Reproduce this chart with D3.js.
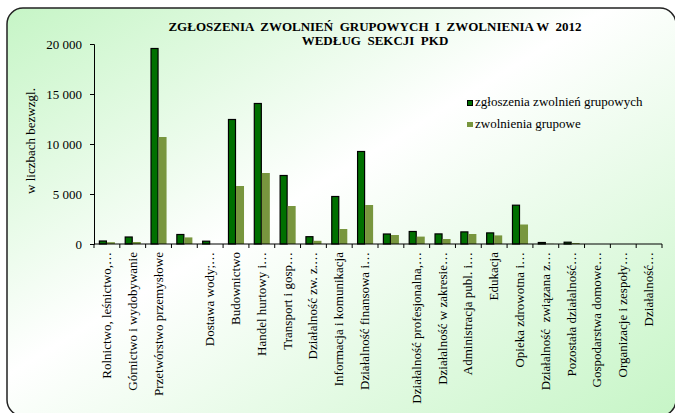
<!DOCTYPE html>
<html>
<head>
<meta charset="utf-8">
<script src="https://cdn.jsdelivr.net/npm/d3@7"></script>
<style>
  body { margin: 0; background: #fff; }
  text { font-family: "Liberation Serif", "Times New Roman", serif; fill: #000; }
</style>
</head>
<body>
<div class="chart"></div>
<script>
// data
var categories = [
  "Rolnictwo, leśnictwo,…", "Górnictwo i wydobywanie", "Przetwórstwo przemysłowe", "",
  "Dostawa wody;…", "Budownictwo", "Handel hurtowy i…", "Transport i gosp…",
  "Działalność zw. z.…", "Informacja i komunikacja", "Działalność finansowa i…", "",
  "Działalność profesjonalna,…", "Działalność w zakresie…", "Administracja publ. i…", "Edukacja",
  "Opieka zdrowotna i…", "Działalność  związana z…", "Pozostała działalność…", "Gospodarstwa domowe…",
  "Organizacje i zespoły…", "Działalność…"
];
var seriesNames = ["zgłoszenia zwolnień grupowych", "zwolnienia grupowe"];
var zgloszenia = [350, 750, 19600, 1000, 330, 12500, 14100, 6900, 780, 4800, 9300, 1050,
                  1300, 1060, 1260, 1160, 3930, 200, 230, 0, 0, 0];
var zwolnienia = [180, 200, 10700, 660, 0, 5800, 7100, 3800, 320, 1500, 3900, 900,
                  740, 500, 1000, 860, 1950, 20, 100, 0, 0, 0];
var yTicks = [0, 5000, 10000, 15000, 20000];
var titleLines = ["ZGŁOSZENIA  ZWOLNIEŃ  GRUPOWYCH  I  ZWOLNIENIA W  2012", "WEDŁUG  SEKCJI  PKD"];

var svgWidth = 675;
var svgHeight = 413;
var margin = { top: 44, right: 13, bottom: 169, left: 94 };
var width = svgWidth - margin.left - margin.right;
var height = svgHeight - margin.top - margin.bottom;

var svg = d3.select(".chart").append("svg")
    .attr("width", svgWidth)
    .attr("height", svgHeight);

// background gradient
var defs = svg.append("defs");
var grad = defs.append("linearGradient")
    .attr("id", "bg")
    .attr("x1", "0").attr("y1", "0").attr("x2", "1").attr("y2", "1");
grad.append("stop").attr("offset", "0%").attr("stop-color", "#c6f5c6");
grad.append("stop").attr("offset", "45%").attr("stop-color", "#ffffff");
grad.append("stop").attr("offset", "100%").attr("stop-color", "#c6f5c6");

svg.append("rect")
    .attr("x", 7).attr("y", 8)
    .attr("width", 669).attr("height", 408)
    .attr("rx", 16).attr("ry", 16)
    .attr("fill", "url(#bg)")
    .attr("stroke", "#222")
    .attr("stroke-width", 1.5);

var chart = svg.append("g")
    .attr("transform", "translate(" + margin.left + "," + margin.top + ")");

var x0 = d3.scaleBand().domain(d3.range(categories.length)).range([0, width]).padding(0);
var x1 = d3.scaleBand().domain([0, 1]).range([0, x0.bandwidth()]).paddingInner(0).paddingOuter(0.61);
var y = d3.scaleLinear().domain([0, 20000]).range([height, 0]);

var fmt = function(d) { return d3.format(",")(d).replace(",", " "); };

// bars
var groups = chart.selectAll(".cat")
    .data(categories.map(function(c, i) { return { i: i, v: [zgloszenia[i], zwolnienia[i]] }; }))
    .enter().append("g")
    .attr("transform", function(d) { return "translate(" + x0(d.i) + ",0)"; });

groups.append("rect")
    .attr("x", x1(0) + 0.5)
    .attr("y", function(d) { return y(d.v[0]) + 0.5; })
    .attr("width", x1.bandwidth() - 1)
    .attr("height", function(d) { return Math.max(0, height - y(d.v[0]) - 0.5); })
    .attr("fill", "#007000")
    .attr("stroke", "#000")
    .attr("stroke-width", function(d) { return d.v[0] > 0 ? 1.2 : 0; });

groups.append("rect")
    .attr("x", x1(1))
    .attr("y", function(d) { return y(d.v[1]); })
    .attr("width", x1.bandwidth())
    .attr("height", function(d) { return height - y(d.v[1]); })
    .attr("fill", "#78963e");

// y axis
var leftAxis = d3.axisLeft(y).tickValues(yTicks).tickFormat(fmt).tickSize(4).tickPadding(8);
var yg = chart.append("g").call(leftAxis);
yg.attr("font-family", null);
yg.select(".domain").attr("stroke", "#000");
yg.selectAll("text").attr("font-size", 13).attr("font-family", "Liberation Serif");

// x axis with ticks between categories
var xg = chart.append("g").attr("transform", "translate(0," + height + ")");
xg.append("line").attr("x1", 0).attr("x2", width).attr("stroke", "#000");
xg.selectAll(".xt")
    .data(d3.range(categories.length + 1))
    .enter().append("line")
    .attr("x1", function(d) { return d * x0.step(); })
    .attr("x2", function(d) { return d * x0.step(); })
    .attr("y2", 4)
    .attr("stroke", "#000");
xg.selectAll(".xl")
    .data(categories)
    .enter().append("text")
    .attr("transform", function(d, i) {
        return "translate(" + (x0(i) + x0.bandwidth() / 2 + 4) + ",8) rotate(-90)";
    })
    .attr("text-anchor", "end")
    .attr("font-size", 13)
    .style("white-space", "pre")
    .text(function(d) { return d; });

// y axis title
svg.append("text")
    .attr("transform", "translate(35,141) rotate(-90)")
    .attr("text-anchor", "middle")
    .attr("font-size", 13)
    .text("w liczbach bezwzgl.");

// title
svg.selectAll(".title")
    .data(titleLines)
    .enter().append("text")
    .attr("x", 375)
    .attr("y", function(d, i) { return 31 + i * 14; })
    .attr("text-anchor", "middle")
    .attr("font-size", 13)
    .attr("font-weight", "bold")
    .style("white-space", "pre")
    .text(function(d) { return d; });

// legend
var legend = svg.append("g").attr("transform", "translate(467,100)");
legend.append("rect").attr("x", 0.5).attr("y", 0.5).attr("width", 5).attr("height", 5)
    .attr("fill", "#007000").attr("stroke", "#000");
legend.append("rect").attr("x", 0).attr("y", 22).attr("width", 6).attr("height", 5)
    .attr("fill", "#78963e");
legend.selectAll(".lt")
    .data(seriesNames)
    .enter().append("text")
    .attr("x", 8)
    .attr("y", function(d, i) { return 6 + i * 22; })
    .attr("font-size", 13)
    .text(function(d) { return d; });
</script>
</body>
</html>
